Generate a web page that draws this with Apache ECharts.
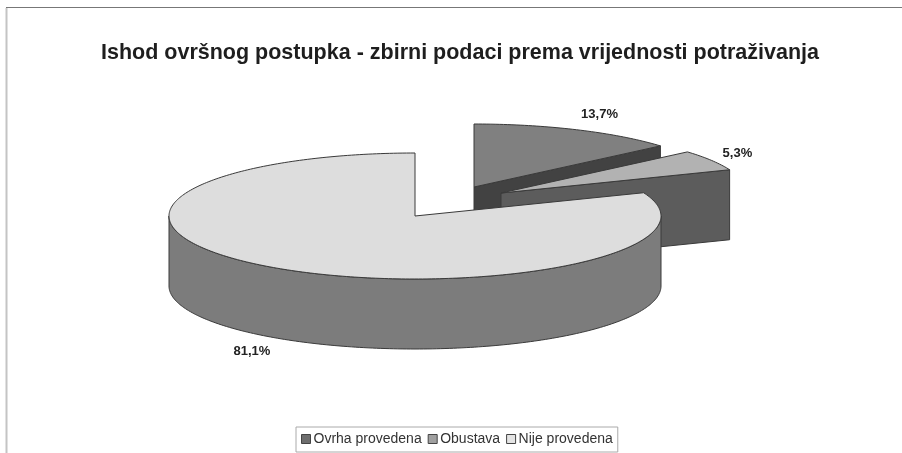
<!DOCTYPE html>
<html><head><meta charset="utf-8">
<style>html,body{margin:0;padding:0;background:#fff}#c{width:902px;height:453px}</style>
<script src="https://cdn.jsdelivr.net/npm/echarts@6/dist/echarts.min.js"></script>
</head><body><div id="c"></div>
<script>
const titleText = 'Ishod ovršnog postupka - zbirni podaci prema vrijednosti potraživanja';
const categories = ['Ovrha provedena', 'Obustava', 'Nije provedena'];
const values = [13.7, 5.3, 81.1];

// Styling and layout of the projected pie
const topColors = ['#808080', '#b2b2b2', '#dddddd'];
const wallColors = ['#424242', '#5c5c5c', '#7c7c7c'];
const legendColors = ['#6e6e6e', '#a0a0a0', '#e4e4e4'];
const explode = [[59, -29], [86, -23], [0, 0]];
const labelOffsets = [[23, -15], [26, -7], [-25, 13]];
const pieCenter = [415, 216], radiusX = 246, radiusY = 63, depth = 70;
const FONT = '"Liberation Sans", Arial, sans-serif';
const STROKE = '#3a3a3a';

const total = values.reduce((a, b) => a + b, 0);
function startAngle(i) {
  let s = 0;
  for (let k = 0; k < i; k++) s += values[k];
  return s / total * 360;
}
function rim(c, deg, dy) {
  const r = deg * Math.PI / 180;
  return [c[0] + radiusX * Math.sin(r), c[1] - radiusY * Math.cos(r) + (dy || 0)];
}
function arc(c, a0, a1, dy) {
  const pts = [];
  const n = Math.max(2, Math.ceil(Math.abs(a1 - a0)));
  for (let j = 0; j <= n; j++) pts.push(rim(c, a0 + (a1 - a0) * j / n, dy));
  return pts;
}
function poly(points, fill) {
  return { type: 'polygon', shape: { points }, style: { fill, stroke: STROKE, lineWidth: 1, lineJoin: 'round' } };
}
function renderSlice(i, params, api) {
  const v = api.value(0);
  const a0 = startAngle(i), a1 = a0 + v / total * 360;
  const c = [pieCenter[0] + explode[i][0], pieCenter[1] + explode[i][1]];
  const children = [];
  const apexLow = [c[0], c[1] + depth];
  if (a1 > 0 && a1 < 180) {
    const p = rim(c, a1);
    children.push(poly([c, p, [p[0], p[1] + depth], apexLow], wallColors[i]));
  }
  if (a0 > 180 && a0 < 360) {
    const p = rim(c, a0);
    children.push(poly([c, p, [p[0], p[1] + depth], apexLow], wallColors[i]));
  }
  const w0 = Math.max(a0, 90), w1 = Math.min(a1, 270);
  if (w1 > w0) {
    children.push(poly(arc(c, w0, w1, 0).concat(arc(c, w1, w0, depth)), wallColors[i]));
  }
  children.push(poly([c].concat(arc(c, a0, a1, 0)), topColors[i]));
  const mid = (a0 + a1) / 2;
  const lp = rim(c, mid, Math.cos(mid * Math.PI / 180) < 0 ? depth : 0);
  children.push({
    type: 'text',
    style: {
      x: lp[0] + labelOffsets[i][0], y: lp[1] + labelOffsets[i][1],
      text: v.toFixed(1).replace('.', ',') + '%',
      fill: '#222', font: 'bold 13px ' + FONT, align: 'center', verticalAlign: 'middle'
    }
  });
  return { type: 'group', children };
}

const chart = echarts.init(document.getElementById('c'), null, { renderer: 'canvas' });
chart.setOption({
  animation: false,
  backgroundColor: '#ffffff',
  title: {
    text: titleText, left: 455, top: 37, textAlign: 'center',
    textStyle: { fontFamily: FONT, fontSize: 21.5, fontWeight: 'bold', color: '#1e1e1e' }
  },
  legend: {
    data: categories, left: 296, top: 427, orient: 'horizontal',
    padding: [5, 5, 6, 5], itemGap: 6, itemWidth: 9, itemHeight: 9, icon: 'rect',
    selectedMode: false,
    backgroundColor: '#fff', borderColor: '#aaaaaa', borderWidth: 1,
    itemStyle: { borderColor: '#444', borderWidth: 1 },
    textStyle: { fontFamily: FONT, fontSize: 14, color: '#333', padding: [0, 0, 0, -2] }
  },
  graphic: [
    { type: 'line', shape: { x1: 6, y1: 7.5, x2: 902, y2: 7.5 }, style: { stroke: '#777', lineWidth: 1 } },
    { type: 'line', shape: { x1: 6.5, y1: 8, x2: 6.5, y2: 453 }, style: { stroke: '#c4c4c4', lineWidth: 2 } }
  ],
  series: categories.map((name, i) => ({
    type: 'custom', name, coordinateSystem: 'none',
    itemStyle: { color: legendColors[i] },
    data: [[values[i]]],
    silent: true,
    renderItem: (params, api) => renderSlice(i, params, api)
  }))
});
</script></body></html>
